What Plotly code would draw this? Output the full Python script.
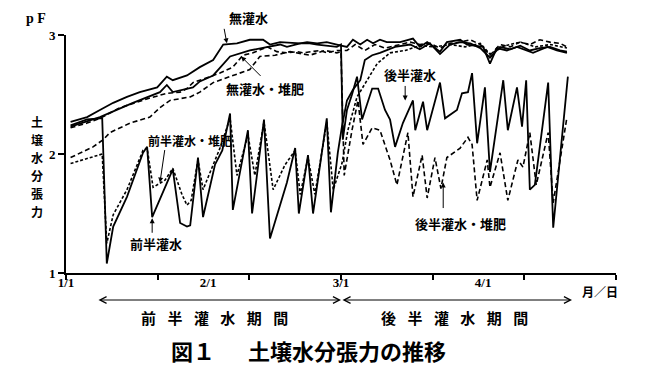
import plotly.graph_objects as go

# ---- data (x = days after 1/1, y = pF) ----
mukansui_day = [1, 4.6, 7.4, 10.3, 13.3, 16.1, 19.9, 22.0, 23.3, 26.4, 29.2, 32.1, 34.3, 37.3, 40.1,
                43.0, 44.5, 46.7, 51.1, 52.6, 54.8, 56.9, 59.1, 61.3, 62.6, 64.2, 65.7, 67.0, 68.5, 70.0,
                72.9, 75.7, 77.2, 78.8, 81.6, 83.1, 86.0, 87.5, 91.0, 92.5, 94.0, 96.2, 98.4, 100.6, 101.9,
                105.0, 107.1, 109.3]
mukansui_pf = [2.27, 2.31, 2.37, 2.43, 2.48, 2.52, 2.56, 2.65, 2.62, 2.66, 2.73, 2.79, 2.92, 2.93, 2.96,
               2.96, 2.92, 2.94, 2.93, 2.94, 2.93, 2.94, 2.92, 2.90, 2.96, 2.92, 2.96, 2.93, 2.96, 2.94,
               2.94, 2.97, 2.90, 2.94, 2.86, 2.94, 2.96, 2.92, 2.90, 2.76, 2.89, 2.87, 2.90, 2.87, 2.85,
               2.90, 2.87, 2.85]

mu_taihi_day = [1, 4.6, 7.4, 11.8, 18.3, 22.0, 24.9, 26.4, 27.7, 30.8, 33.6, 36.4, 38.6, 40.8, 43.9,
                46.0, 48.2, 50.4, 51.7, 55.4, 56.9, 59.1, 61.3, 63.1, 65.2, 67.4, 69.6, 72.9, 75.1, 77.2,
                79.4, 81.6, 83.8, 86.0, 88.2, 90.4, 92.5, 94.7, 96.9, 99.1, 101.2, 103.4, 105.6, 107.8, 109.3]
mu_taihi_pf = [2.22, 2.26, 2.30, 2.39, 2.47, 2.51, 2.52, 2.55, 2.60, 2.64, 2.68, 2.73, 2.83, 2.85, 2.90,
               2.86, 2.85, 2.86, 2.85, 2.87, 2.85, 2.87, 2.87, 2.92, 2.87, 2.92, 2.89, 2.92, 2.94, 2.92,
               2.93, 2.89, 2.93, 2.94, 2.96, 2.92, 2.83, 2.92, 2.90, 2.94, 2.92, 2.96, 2.94, 2.93, 2.90]

zenhan_day = [1, 4.6, 7.4, 7.9, 8.9, 10.3, 13.3, 16.8, 17.7, 18.8, 23.3, 24.9, 26.4, 27.1, 28.8,
              29.9, 32.5, 34.1, 35.8, 36.4, 39.7, 40.6, 43.2, 44.5, 48.2, 50.0, 50.8, 52.8, 53.9, 56.9,
              57.8, 59.3, 60.2, 61.3, 62.6, 64.2, 65.2, 66.8, 68.5, 71.8, 75.1, 77.2, 79.4, 81.6, 83.8,
              86.0, 88.2, 90.4, 92.5, 94.7, 96.9, 99.1, 101.2, 103.4, 105.6, 107.8, 109.3]
zenhan_pf = [2.24, 2.29, 2.30, 2.30, 1.08, 1.39, 1.64, 2.01, 2.06, 1.47, 1.87, 1.42, 1.39, 1.40, 1.97,
             1.47, 1.91, 2.03, 2.34, 1.53, 2.20, 1.50, 2.29, 1.29, 1.76, 2.05, 1.50, 1.99, 1.50, 2.30,
             1.51, 2.01, 2.23, 2.45, 2.54, 2.62, 2.79, 2.83, 2.85, 2.90, 2.92, 2.88, 2.93, 2.84, 2.92,
             2.94, 2.93, 2.89, 2.81, 2.90, 2.88, 2.91, 2.87, 2.89, 2.90, 2.87, 2.86]

zenhan_taihi_day = [1, 7.4, 7.9, 8.9, 10.3, 13.3, 16.8, 17.7, 19.0, 21.6, 23.3, 25.3, 26.4, 27.3, 28.8,
                    29.9, 33.6, 35.8, 37.3, 39.7, 41.2, 43.2, 45.2, 47.8, 50.0, 51.1, 52.8, 54.3, 56.9, 58.3,
                    60.2, 61.5, 63.5, 65.7, 67.9, 70.7, 74.0, 77.2, 80.5, 83.8, 87.1, 90.4, 92.5, 95.8, 99.1,
                    102.4, 105.7, 109.3]
zenhan_taihi_pf = [1.92, 1.99, 2.00, 1.25, 1.49, 1.70, 2.03, 2.05, 1.72, 1.78, 1.88, 1.66, 1.57, 1.61, 1.95,
                   1.70, 2.05, 2.30, 1.82, 2.16, 1.82, 2.27, 1.70, 1.91, 2.03, 1.66, 1.97, 1.66, 2.27, 1.70,
                   1.92, 2.20, 2.48, 2.62, 2.76, 2.85, 2.87, 2.91, 2.90, 2.92, 2.90, 2.93, 2.84, 2.91, 2.94,
                   2.90, 2.92, 2.89]

kohan_day = [1, 7.4, 14.6, 17.7, 20.5, 22.0, 23.3, 27.7, 29.2, 32.1, 35.8, 40.1, 43.9, 46.7, 48.2,
             51.1, 53.2, 54.8, 59.1, 60.0, 60.4, 61.3, 62.4, 63.5, 64.6, 66.8, 68.1, 69.6, 70.7, 71.8,
             73.5, 75.7, 76.2, 77.9, 78.8, 81.6, 82.7, 85.3, 86.4, 87.7, 88.6, 89.7, 91.4, 92.5, 95.4,
             96.4, 98.4, 99.5, 100.4, 101.2, 102.3, 105.2, 106.3, 109.5]
kohan_pf = [2.23, 2.31, 2.43, 2.48, 2.52, 2.58, 2.52, 2.56, 2.61, 2.66, 2.82, 2.87, 2.90, 2.92, 2.90,
            2.93, 2.93, 2.92, 2.90, 2.92, 2.12, 2.37, 2.50, 2.65, 2.29, 2.55, 2.55, 2.37, 2.29, 2.06,
            2.26, 2.45, 2.20, 2.44, 2.20, 2.60, 2.30, 2.37, 2.51, 2.52, 2.68, 2.09, 2.56, 1.85, 2.62,
            2.20, 2.56, 2.23, 2.62, 1.70, 1.74, 2.60, 1.38, 2.65]

kohan_taihi_day = [1, 5.9, 8.1, 9.6, 14.0, 18.3, 20.5, 22.7, 27.1, 29.2, 32.1, 36.4, 40.1, 42.3, 45.6,
                   48.9, 53.2, 56.5, 59.1, 60.0, 60.7, 62.4, 63.7, 64.8, 66.8, 68.5, 70.7, 72.2, 74.6, 75.7,
                   77.7, 78.8, 80.5, 81.8, 83.1, 86.0, 87.7, 88.6, 89.7, 91.9, 92.5, 94.7, 96.4, 98.6, 99.7,
                   101.2, 102.6, 105.2, 106.3, 109.3]
kohan_taihi_pf = [1.97, 2.06, 2.12, 2.18, 2.26, 2.31, 2.39, 2.45, 2.48, 2.52, 2.60, 2.66, 2.71, 2.82, 2.83,
                  2.86, 2.83, 2.87, 2.85, 2.86, 1.82, 2.20, 2.45, 2.08, 2.22, 2.20, 1.95, 1.74, 2.18, 1.64,
                  1.99, 1.63, 1.97, 1.71, 1.97, 2.05, 2.14, 2.08, 1.61, 1.95, 1.72, 2.01, 1.61, 1.95, 1.89,
                  2.18, 1.74, 2.18, 1.59, 2.31]

x_tick_days = [0, 20, 40, 60, 80, 100, 120]
label_days = [0, 31, 60, 91]
label_text = ["1/1", "2/1", "3/1", "4/1"]
y_ticks = [1, 2, 3]
y_title_chars = list("土壌水分張力")

JP = "Noto Sans CJK JP"
SERIF = "Liberation Serif"

fig = go.Figure()

series = [
    ("無灌水", mukansui_day, mukansui_pf, "solid", 1.8),
    ("無灌水・堆肥", mu_taihi_day, mu_taihi_pf, "5px,3px", 1.6),
    ("前半灌水", zenhan_day, zenhan_pf, "solid", 1.8),
    ("前半灌水・堆肥", zenhan_taihi_day, zenhan_taihi_pf, "3px,2px", 1.6),
    ("後半灌水", kohan_day, kohan_pf, "solid", 1.8),
    ("後半灌水・堆肥", kohan_taihi_day, kohan_taihi_pf, "5px,3px", 1.6),
]
for name, xd, yd, dash, w in series:
    fig.add_trace(go.Scatter(x=xd, y=yd, mode="lines", name=name, showlegend=False,
                             line=dict(color="black", width=w, dash=dash)))

# helper trace so the label axis is drawn
fig.add_trace(go.Scatter(x=[0, 120], y=[None, None], xaxis="x2", mode="lines",
                         showlegend=False, hoverinfo="skip"))

# the page body has an 8px margin, so the figure is drawn 8px in from the corner
OFF = 8
W, H = 648 - 2 * OFF, 382 - 2 * OFF
L, T = 66 - OFF, 35 - OFF
PW, PH = 550, 238
R, B = W - L - PW, H - T - PH


def P(px, py):
    """reference-picture pixel -> paper coordinates"""
    return (px - 66) / PW, (273 - py) / PH


fig.update_layout(
    width=W, height=H,
    margin=dict(l=L, r=R, t=T, b=B, pad=0),
    paper_bgcolor="white", plot_bgcolor="white",
    xaxis=dict(range=[0, 120], tickvals=x_tick_days, showticklabels=False,
               ticks="outside", ticklen=5, tickwidth=1.5, tickcolor="black",
               showline=True, linecolor="black", linewidth=2,
               showgrid=False, zeroline=False),
    xaxis2=dict(range=[0, 120], overlaying="x", anchor="y", side="bottom",
                tickvals=label_days, ticktext=label_text, ticks="", ticklen=0,
                showline=False, showgrid=False, zeroline=False,
                tickfont=dict(family=SERIF, size=13, color="black", weight="bold")),
    yaxis=dict(range=[1, 3], tickvals=y_ticks, ticks="outside", ticklen=6, tickwidth=1.5,
               tickcolor="black", showline=True, linecolor="black", linewidth=2,
               showgrid=False, zeroline=False,
               tickfont=dict(family=SERIF, size=13, color="black", weight="bold")),
)

ann = []


def text(px, py, s, size=12, family=JP, **kw):
    x, y = P(px, py)
    ann.append(dict(x=x, y=y, xref="paper", yref="paper", text=s, showarrow=False,
                    xanchor="center", yanchor="middle",
                    font=dict(family=family, size=size, color="black", weight="bold"), **kw))


def arrow(day, pf, ax, ay):
    ann.append(dict(x=day, y=pf, xref="x", yref="y", text="", showarrow=True,
                    ax=ax, ay=ay, arrowhead=2, arrowsize=1, arrowwidth=1, arrowcolor="black"))


# curve labels
text(248, 17, "無灌水", 13)
text(265, 88, "無灌水・堆肥", 13)
text(190, 140, "前半灌水・堆肥", 12)
text(156, 243, "前半灌水", 13)
text(410, 74, "後半灌水", 13)
text(460, 223, "後半灌水・堆肥", 13)

arrow(35.1, 2.93, -3, -16)
arrow(38.2, 2.82, 21, 21)
arrow(20.5, 1.76, 5, -34)
arrow(18.8, 1.46, 0, 16)
arrow(74.0, 2.45, 0, -16)
arrow(82.3, 1.76, 0, 27)

# axis annotations
text(36, 18, "p F", 14, family=SERIF)
for i, ch in enumerate(y_title_chars):
    text(37, 121 + 18 * i, ch, 12)
text(600, 291, "月／日", 12)

# period arrows
for tip_px, tail_px in [(341, 97), (572, 341)]:
    x, y = P(tip_px, 300)
    ann.append(dict(x=x, y=y, xref="paper", yref="paper", text="", showarrow=True,
                    ax=tail_px - tip_px, ay=0, arrowside="end+start",
                    arrowhead=5, startarrowhead=5, arrowsize=1.3, startarrowsize=1.3,
                    arrowwidth=1, arrowcolor="black"))

sp = "\u2002\u2009\u200a"
text(214, 317, sp.join("前半灌水期間"), 15)
text(454, 317, sp.join("後半灌水期間"), 15)
text(308, 350, "図１\u3000\u2002土壌水分張力の推移", 22)

fig.update_layout(annotations=ann)
fig.write_html("out.html")
